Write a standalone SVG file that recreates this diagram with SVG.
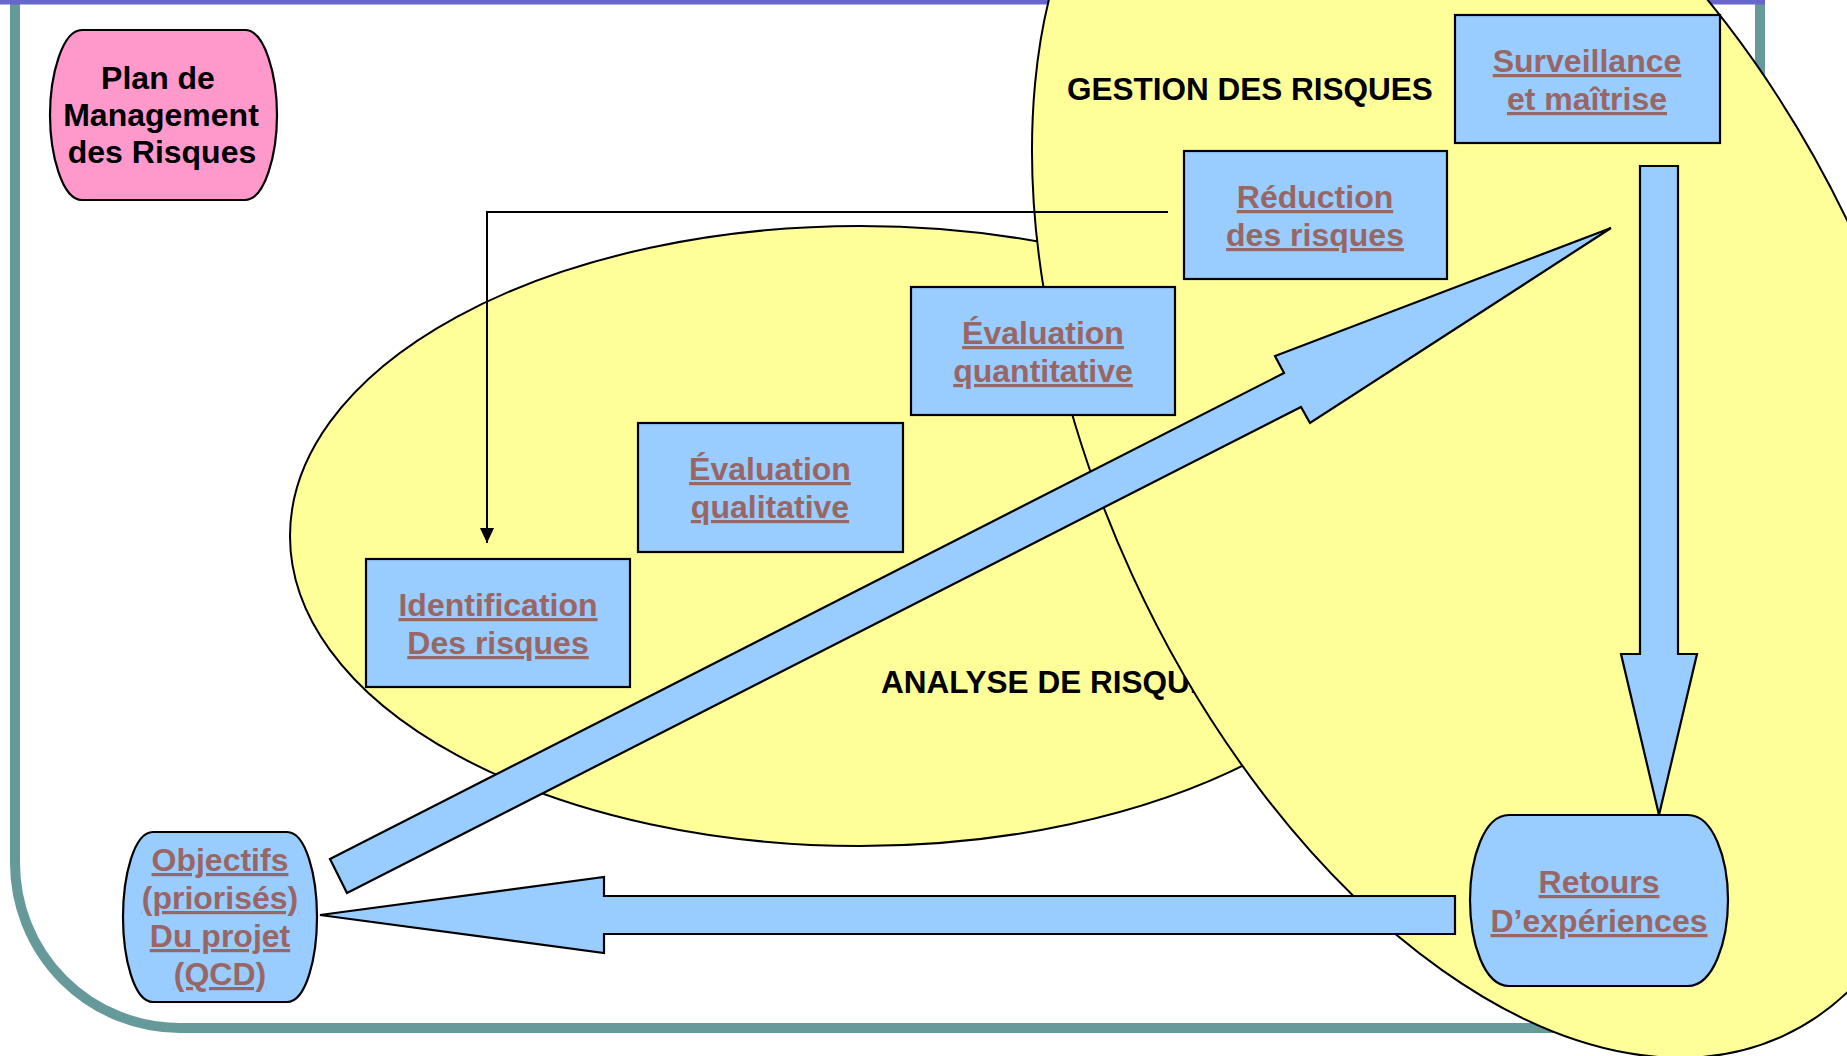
<svg xmlns="http://www.w3.org/2000/svg" width="1847" height="1056" viewBox="0 0 1847 1056">
<style>
  .region { fill: #FFFF99; stroke: #000; stroke-width: 2; }
  .box { fill: #99CCFF; stroke: #000; stroke-width: 2.2; }
  .can { fill: #99CCFF; stroke: #000; stroke-width: 2.2; }
  .pink { fill: #FF99CC; stroke: #000; stroke-width: 2.2; }
  .blk { fill: #99CCFF; stroke: #000; stroke-width: 2.2; stroke-linejoin: miter; }
  .lbl { font-family: "Liberation Sans", Arial, sans-serif; font-weight: bold; font-size: 32px; fill: #996666; text-anchor: middle; text-decoration: underline; text-decoration-thickness: 3px; text-underline-offset: 4px; }
  .title { font-family: "Liberation Sans", Arial, sans-serif; font-weight: bold; font-size: 32px; fill: #000; text-anchor: middle; }
  .zone { font-family: "Liberation Sans", Arial, sans-serif; font-weight: bold; font-size: 31.5px; fill: #000; }
  .conn { fill: none; stroke: #000; stroke-width: 2; }
</style>
<defs>
  <marker id="arr" markerUnits="userSpaceOnUse" markerWidth="16" markerHeight="14" refX="15" refY="7" orient="auto" viewBox="0 0 16 14">
    <path d="M0,0 L15,7 L0,14 Z" fill="#000"/>
  </marker>
</defs>
<rect x="0" y="0" width="1847" height="1056" fill="#FFFFFF"/>
<g id="frame">
  <path d="M15,0 V863 A165,165 0 0 0 180,1028 H1760 V0" fill="none" stroke="#669999" stroke-width="10"/>
  <rect x="0" y="0" width="1765" height="4.5" fill="#6666CC"/>
</g>
<g id="analyse-region">
  <ellipse class="region" cx="860" cy="536" rx="570" ry="310"/>
  <text class="zone" x="881" y="693">ANALYSE DE RISQUES</text>
</g>
<g id="gestion-region">
  <ellipse class="region" cx="1495" cy="409" rx="690" ry="399" transform="rotate(65.35 1495 409)"/>
  <text class="zone" x="1067" y="100">GESTION DES RISQUES</text>
</g>
<g id="plan">
  <path class="pink" d="M82,30 H245 C265,30 277,76 277,115 C277,154 265,200 245,200 H82 C62,200 50,154 50,115 C50,76 62,30 82,30 Z"/>
  <text class="title" x="158" y="89">Plan de</text>
  <text class="title" x="161" y="126">Management</text>
  <text class="title" x="162" y="163">des Risques</text>
</g>
<g id="surveillance">
  <rect class="box" x="1455" y="15" width="265" height="128"/>
  <text class="lbl" x="1587" y="72">Surveillance</text>
  <text class="lbl" x="1587" y="110">et maîtrise</text>
</g>
<g id="reduction">
  <rect class="box" x="1184" y="151" width="263" height="128"/>
  <text class="lbl" x="1315" y="208">Réduction</text>
  <text class="lbl" x="1315" y="246">des risques</text>
</g>
<g id="eval-quantitative">
  <rect class="box" x="911" y="287" width="264" height="128"/>
  <text class="lbl" x="1043" y="344">Évaluation</text>
  <text class="lbl" x="1043" y="382">quantitative</text>
</g>
<g id="eval-qualitative">
  <rect class="box" x="638" y="423" width="265" height="129"/>
  <text class="lbl" x="770" y="480">Évaluation</text>
  <text class="lbl" x="770" y="518">qualitative</text>
</g>
<g id="identification">
  <rect class="box" x="366" y="559" width="264" height="128"/>
  <text class="lbl" x="498" y="616">Identification</text>
  <text class="lbl" x="498" y="654">Des risques</text>
</g>
<g id="objectifs">
  <path class="can" d="M153,832 H287 C306,832 317,876 317,917 C317,958 306,1002 287,1002 H153 C134,1002 123,958 123,917 C123,876 134,832 153,832 Z"/>
  <text class="lbl" x="220" y="871">Objectifs</text>
  <text class="lbl" x="220" y="909">(priorisés)</text>
  <text class="lbl" x="220" y="947">Du projet</text>
  <text class="lbl" x="220" y="985">(QCD)</text>
</g>
<g id="retours">
  <path class="can" d="M1509,815 H1688 C1713,815 1728,858 1728,900 C1728,942 1713,986 1688,986 H1509 C1484,986 1470,942 1470,900 C1470,858 1484,815 1509,815 Z"/>
  <text class="lbl" x="1599" y="893">Retours</text>
  <text class="lbl" x="1599" y="932">D’expériences</text>
</g>
<g id="connectors">
  <polygon class="blk" points="330,859 1284,373 1275,356 1611,228 1310,423 1301,407 347,893"/>
  <polygon class="blk" points="1640,166 1678,166 1678,654 1697,654 1659,815 1621,654 1640,654"/>
  <polygon class="blk" points="1455,896 604,896 604,877 320,915 604,953 604,934 1455,934"/>
  <path class="conn" d="M1168,212 H487 V543" marker-end="url(#arr)"/>
</g>
</svg>
